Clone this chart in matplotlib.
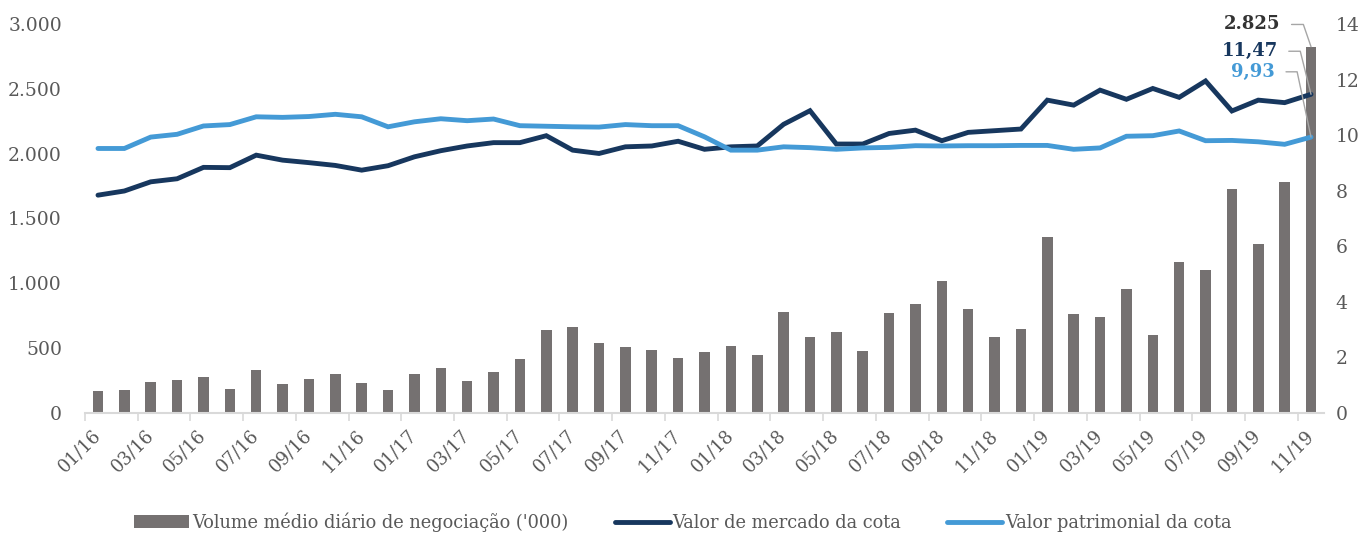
import matplotlib
matplotlib.use("Agg")
import matplotlib.pyplot as plt
import numpy as np

plt.rcParams['font.family'] = ['DejaVu Serif']

# meses 01/16 .. 11/19
meses = [f"{m:02d}/{a}" for a in (16, 17, 18, 19) for m in range(1, 13)][:47]

volume = [172, 177, 239, 254, 275, 187, 332, 224, 260, 298, 229, 177,
          303, 349, 247, 316, 419, 637, 665, 540, 511, 486, 422, 470,
          514, 450, 781, 586, 627, 478, 771, 838, 1018, 802, 584, 650,
          1355, 761, 740, 954, 599, 1164, 1105, 1725, 1300, 1783, 2825]

mercado = [7.84, 7.99, 8.32, 8.43, 8.84, 8.83, 9.28, 9.10, 9.01, 8.91, 8.74, 8.90,
           9.22, 9.44, 9.61, 9.73, 9.73, 9.98, 9.46, 9.34, 9.58, 9.61, 9.78, 9.49,
           9.58, 9.61, 10.39, 10.88, 9.68, 9.68, 10.06, 10.18, 9.80, 10.10, 10.16, 10.22,
           11.26, 11.08, 11.62, 11.29, 11.68, 11.36, 11.95, 10.87, 11.26, 11.17, 11.47]

patrimonial = [9.52, 9.52, 9.93, 10.03, 10.33, 10.38, 10.66, 10.64, 10.67, 10.75, 10.66, 10.30,
               10.48, 10.59, 10.52, 10.58, 10.34, 10.32, 10.30, 10.29, 10.38, 10.34, 10.34, 9.94,
               9.46, 9.46, 9.58, 9.55, 9.49, 9.54, 9.56, 9.62, 9.61, 9.62, 9.62, 9.63,
               9.63, 9.49, 9.54, 9.96, 9.98, 10.15, 9.80, 9.81, 9.76, 9.67, 9.93]

cor_barra = '#757171'
cor_mercado = '#17375e'
cor_patrim = '#449ad6'
cor_texto = '#595959'
cor_eixo = '#d9d9d9'
cor_guia = '#a6a6a6'

fig = plt.figure(figsize=(13.66, 5.33), dpi=100)
ax = fig.add_axes([84.8/1366, 1-413/533, (1324.2-84.8)/1366, 389/533])
ax2 = ax.twinx()

x = np.arange(len(meses))
ax.bar(x, volume, width=0.4, color=cor_barra, label="Volume médio diário de negociação ('000)")
ax2.plot(x, mercado, color=cor_mercado, lw=3.5, solid_capstyle='round', solid_joinstyle='miter',
         label='Valor de mercado da cota')
ax2.plot(x, patrimonial, color=cor_patrim, lw=3.5, solid_capstyle='round', solid_joinstyle='miter',
         label='Valor patrimonial da cota')

ax.set_xlim(-0.5, len(meses) - 0.5)
ax.set_ylim(0, 3000)
ax2.set_ylim(0, 14)
ax.set_yticks(range(0, 3001, 500))
ax.set_yticklabels([f"{v:,}".replace(',', '.') for v in range(0, 3001, 500)])
ax2.set_yticks(range(0, 15, 2))

ax.set_xticks(x[::2])
ax.set_xticklabels(meses[::2], rotation=45, ha='right', va='center', rotation_mode='anchor')
ax.set_xticks(np.arange(-0.5, len(meses), 2), minor=True)
ax.tick_params(axis='x', which='major', length=0, pad=14, labelsize=13, labelcolor=cor_texto)
ax.tick_params(axis='x', which='minor', length=6, color=cor_eixo, width=1.2)
ax.tick_params(axis='y', length=0, labelsize=13.5, labelcolor=cor_texto, pad=16.5)
ax2.tick_params(axis='y', length=0, labelsize=13.5, labelcolor=cor_texto, pad=8)

for a in (ax, ax2):
    for s in ('top', 'left', 'right'):
        a.spines[s].set_visible(False)
ax.spines['bottom'].set_color(cor_eixo)
ax.spines['bottom'].set_linewidth(1.5)
ax2.spines['bottom'].set_visible(False)

# rótulos do último ponto
ult = len(meses) - 1
rotulos = [
    (ax, volume[-1], f"{volume[-1]:,}".replace(',', '.'), '#333333', (-22, 16), 109),
    (ax2, mercado[-1], f"{mercado[-1]:.2f}".replace('.', ','), cor_mercado, (-24, 31), 104),
    (ax2, patrimonial[-1], f"{patrimonial[-1]:.2f}".replace('.', ','), cor_patrim, (-26, 47), 102),
]
for eixo, valor, texto, cor, desloc, ang in rotulos:
    eixo.annotate(texto, xy=(ult, valor), xycoords='data',
                  xytext=desloc, textcoords='offset points', ha='right', va='center',
                  fontsize=13, fontweight='bold', color=cor,
                  arrowprops=dict(arrowstyle='-', color=cor_guia, lw=1, shrinkA=6, shrinkB=0,
                                  relpos=(1, 0.5),
                                  connectionstyle=f'angle,angleA=0,angleB={ang},rad=0'))

h1, l1 = ax.get_legend_handles_labels()
h2, l2 = ax2.get_legend_handles_labels()
fig.legend(h1 + h2, l1 + l2, loc='center', bbox_to_anchor=(0.5, 11/533),
           ncol=3, frameon=False, fontsize=12.8, handlelength=3.1, handleheight=0.7,
           columnspacing=2.6, handletextpad=0.15, labelcolor=cor_texto)

fig.savefig('out.png', dpi=100)
